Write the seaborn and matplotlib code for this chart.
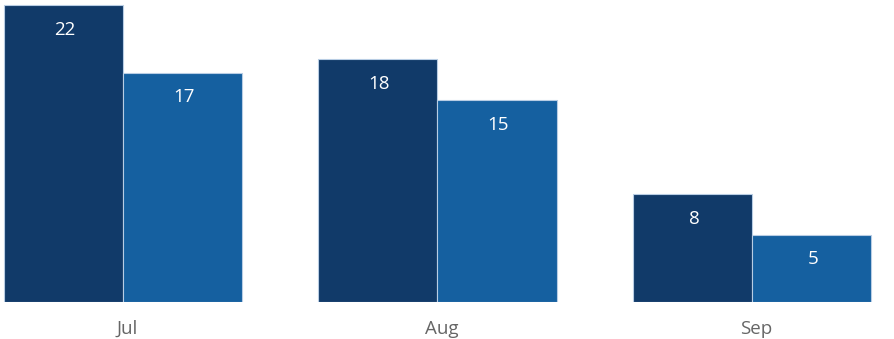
import matplotlib
matplotlib.use("Agg")
import matplotlib.pyplot as plt
import matplotlib.transforms as mtransforms
import seaborn as sns
import pandas as pd

months = ["Jul", "Aug", "Sep"]
series_names = ["A", "B"]
values_a = [22, 18, 8]
values_b = [17, 15, 5]

df = pd.DataFrame({
    "month": months * 2,
    "series": [series_names[0]] * 3 + [series_names[1]] * 3,
    "value": values_a + values_b,
})

sns.set_theme(style="white")
plt.rcParams["font.family"] = ["Open Sans", "DejaVu Sans"]

W, H, DPI = 894, 339, 100
fig = plt.figure(figsize=(W / DPI, H / DPI), dpi=DPI)
ax = fig.add_axes([0, 37 / H, 1, 302 / H])

palette = {"A": "#113a69", "B": "#1560a0"}
sns.barplot(data=df, x="month", y="value", hue="series", palette=palette,
            saturation=1, width=0.757, gap=0, dodge=True, edgecolor="#b8cde4",
            linewidth=0.8, legend=False, ax=ax)

# value labels inside the top of each bar
for container in ax.containers:
    for bar in container:
        h = bar.get_height()
        ax.annotate(f"{h:g}", (bar.get_x() + bar.get_width() / 2, h),
                    xytext=(1, -18), textcoords="offset points",
                    ha="center", va="center", color="white", fontsize=13.5)

px = 314.5
ax.set_xlim(-0.378 - 4 / px, 2.378 + 23 / px)
ax.set_ylim(0, 302 / 13.5)
ax.set_xlabel("")
ax.set_ylabel("")
ax.set_yticks([])
ax.tick_params(axis="x", length=0, pad=13, labelsize=13.5, labelcolor="#666666")
shift = mtransforms.ScaledTranslation(4 / DPI, 0, fig.dpi_scale_trans)
for lbl in ax.get_xticklabels():
    lbl.set_transform(lbl.get_transform() + shift)
for s in ax.spines.values():
    s.set_visible(False)
ax.patch.set_alpha(0)

fig.savefig("out.png", dpi=DPI)
